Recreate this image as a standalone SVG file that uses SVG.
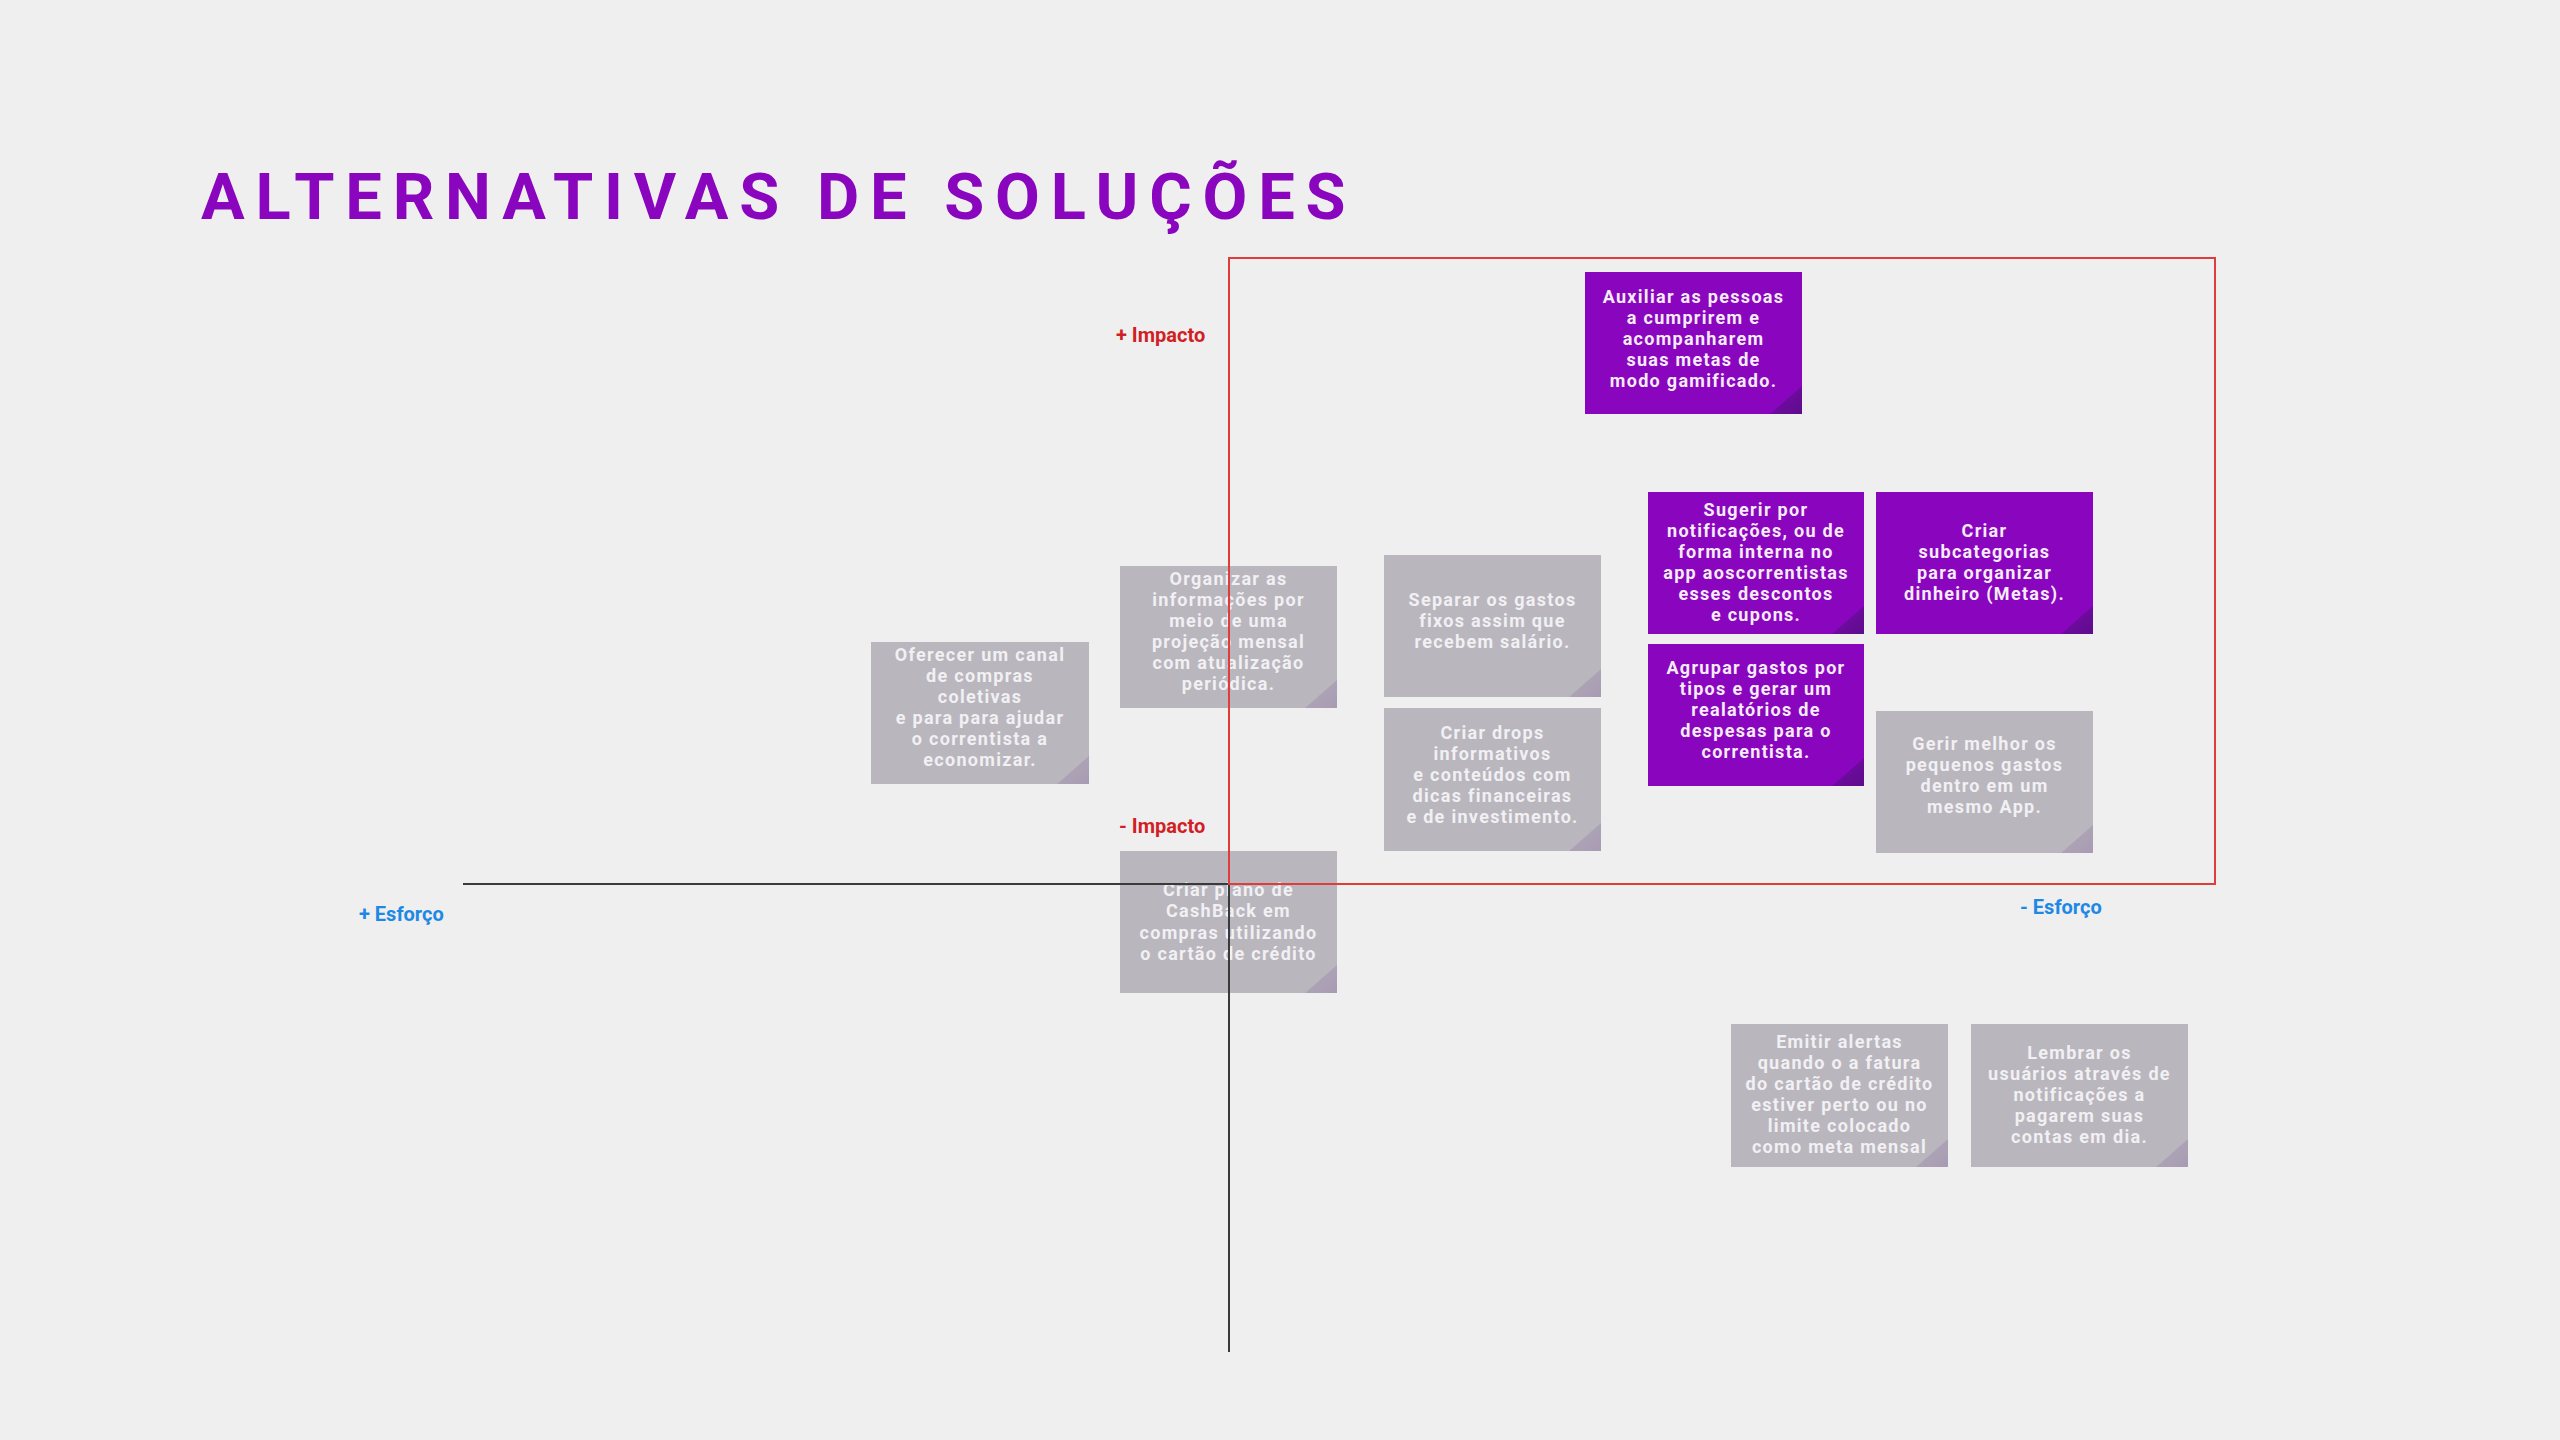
<svg xmlns="http://www.w3.org/2000/svg" width="2560" height="1440" viewBox="0 0 2560 1440">
<style>
.title{font-family:Roboto,"Liberation Sans",sans-serif;font-weight:700;font-size:65px;letter-spacing:10.8px;fill:#8a05be}
.t{font-family:Roboto,"Liberation Sans",sans-serif;font-weight:700;font-size:18px;letter-spacing:1.3px;text-anchor:middle}
.tp{fill:#f5ecf8}
.tg{fill:#f1f0f3}
.pb{fill:#8a05be}
.gb{fill:#bab6be}
.pf{fill:url(#pfold)}
.gf{fill:url(#gfold)}
.lblr{font-family:Roboto,"Liberation Sans",sans-serif;font-weight:700;font-size:20px;fill:#d01f26}
.lblb{font-family:Roboto,"Liberation Sans",sans-serif;font-weight:700;font-size:20px;fill:#1e88e5}
.axis{stroke:#3a3a3a;stroke-width:2;fill:none}
.frame{stroke:#e03c3c;stroke-width:2;fill:none}
</style>
<defs>
<linearGradient id="pfold" x1="0" y1="0" x2="1" y2="1"><stop offset="0" stop-color="#7a0aae"/><stop offset="1" stop-color="#5e0c8c"/></linearGradient>
<linearGradient id="gfold" x1="0" y1="0" x2="1" y2="1"><stop offset="0" stop-color="#b2aab8"/><stop offset="1" stop-color="#a79bb2"/></linearGradient>
</defs>
<rect width="2560" height="1440" fill="#efefef"/>
<text class="title" x="201" y="219">ALTERNATIVAS DE SOLUÇÕES</text>

<g id="n-auxiliar">
<rect class="pb" x="1585" y="272" width="217" height="142"/>
<polygon class="pf" points="1802,386 1802,414 1770,414"/>
<text class="t tp"><tspan x="1693.5" y="303">Auxiliar as pessoas</tspan><tspan x="1693.5" y="324">a cumprirem e</tspan><tspan x="1693.5" y="345">acompanharem</tspan><tspan x="1693.5" y="366">suas metas de</tspan><tspan x="1693.5" y="387">modo gamificado.</tspan></text>
</g>

<g id="n-sugerir">
<rect class="pb" x="1648" y="492" width="216" height="142"/>
<polygon class="pf" points="1864,606 1864,634 1832,634"/>
<text class="t tp"><tspan x="1756" y="516">Sugerir por</tspan><tspan x="1756" y="537">notificações, ou de</tspan><tspan x="1756" y="558">forma interna no</tspan><tspan x="1756" y="579">app aoscorrentistas</tspan><tspan x="1756" y="600">esses descontos</tspan><tspan x="1756" y="621">e cupons.</tspan></text>
</g>

<g id="n-subcategorias">
<rect class="pb" x="1876" y="492" width="217" height="142"/>
<polygon class="pf" points="2093,606 2093,634 2061,634"/>
<text class="t tp"><tspan x="1984.5" y="537">Criar</tspan><tspan x="1984.5" y="558">subcategorias</tspan><tspan x="1984.5" y="579">para organizar</tspan><tspan x="1984.5" y="600">dinheiro (Metas).</tspan></text>
</g>

<g id="n-agrupar">
<rect class="pb" x="1648" y="644" width="216" height="142"/>
<polygon class="pf" points="1864,758 1864,786 1832,786"/>
<text class="t tp"><tspan x="1756" y="674">Agrupar gastos por</tspan><tspan x="1756" y="695">tipos e gerar um</tspan><tspan x="1756" y="716">realatórios de</tspan><tspan x="1756" y="737">despesas para o</tspan><tspan x="1756" y="758">correntista.</tspan></text>
</g>

<g id="n-gerir">
<rect class="gb" x="1876" y="711" width="217" height="142"/>
<polygon class="gf" points="2093,825 2093,853 2061,853"/>
<text class="t tg"><tspan x="1984.5" y="750">Gerir melhor os</tspan><tspan x="1984.5" y="771">pequenos gastos</tspan><tspan x="1984.5" y="792">dentro em um</tspan><tspan x="1984.5" y="813">mesmo App.</tspan></text>
</g>

<g id="n-separar">
<rect class="gb" x="1384" y="555" width="217" height="142"/>
<polygon class="gf" points="1601,669 1601,697 1569,697"/>
<text class="t tg"><tspan x="1492.5" y="606">Separar os gastos</tspan><tspan x="1492.5" y="627">fixos assim que</tspan><tspan x="1492.5" y="648">recebem salário.</tspan></text>
</g>

<g id="n-drops">
<rect class="gb" x="1384" y="708" width="217" height="143"/>
<polygon class="gf" points="1601,823 1601,851 1569,851"/>
<text class="t tg"><tspan x="1492.5" y="739">Criar drops</tspan><tspan x="1492.5" y="760">informativos</tspan><tspan x="1492.5" y="781">e conteúdos com</tspan><tspan x="1492.5" y="802">dicas financeiras</tspan><tspan x="1492.5" y="823">e de investimento.</tspan></text>
</g>

<g id="n-organizar">
<rect class="gb" x="1120" y="566" width="217" height="142"/>
<polygon class="gf" points="1337,680 1337,708 1305,708"/>
<text class="t tg"><tspan x="1228.5" y="585">Organizar as</tspan><tspan x="1228.5" y="606">informações por</tspan><tspan x="1228.5" y="627">meio de uma</tspan><tspan x="1228.5" y="648">projeção mensal</tspan><tspan x="1228.5" y="669">com atualização</tspan><tspan x="1228.5" y="690">periódica.</tspan></text>
</g>

<g id="n-oferecer">
<rect class="gb" x="871" y="642" width="218" height="142"/>
<polygon class="gf" points="1089,756 1089,784 1057,784"/>
<text class="t tg"><tspan x="980" y="661">Oferecer um canal</tspan><tspan x="980" y="682">de compras</tspan><tspan x="980" y="703">coletivas</tspan><tspan x="980" y="724">e para para ajudar</tspan><tspan x="980" y="745">o correntista a</tspan><tspan x="980" y="766">economizar.</tspan></text>
</g>

<g id="n-cashback">
<rect class="gb" x="1120" y="851" width="217" height="142"/>
<polygon class="gf" points="1337,965 1337,993 1305,993"/>
<text class="t tg"><tspan x="1228.5" y="896">Criar plano de</tspan><tspan x="1228.5" y="917">CashBack em</tspan><tspan x="1228.5" y="939">compras utilizando</tspan><tspan x="1228.5" y="960">o cartão de crédito</tspan></text>
</g>

<g id="n-emitir">
<rect class="gb" x="1731" y="1024" width="217" height="143"/>
<polygon class="gf" points="1948,1139 1948,1167 1916,1167"/>
<text class="t tg"><tspan x="1839.5" y="1048">Emitir alertas</tspan><tspan x="1839.5" y="1069">quando o a fatura</tspan><tspan x="1839.5" y="1090">do cartão de crédito</tspan><tspan x="1839.5" y="1111">estiver perto ou no</tspan><tspan x="1839.5" y="1132">limite colocado</tspan><tspan x="1839.5" y="1153">como meta mensal</tspan></text>
</g>

<g id="n-lembrar">
<rect class="gb" x="1971" y="1024" width="217" height="143"/>
<polygon class="gf" points="2188,1139 2188,1167 2156,1167"/>
<text class="t tg"><tspan x="2079.5" y="1059">Lembrar os</tspan><tspan x="2079.5" y="1080">usuários através de</tspan><tspan x="2079.5" y="1101">notificações a</tspan><tspan x="2079.5" y="1122">pagarem suas</tspan><tspan x="2079.5" y="1143">contas em dia.</tspan></text>
</g>

<g id="connectors">
<line class="axis" x1="463" y1="884" x2="1229" y2="884"/>
<line class="axis" x1="1229" y1="884" x2="1229" y2="1352"/>
<rect class="frame" x="1229" y="258" width="986" height="626"/>
</g>

<g id="labels">
<text class="lblr" x="1116" y="342">+ Impacto</text>
<text class="lblr" x="1119" y="833">- Impacto</text>
<text class="lblb" x="359" y="921">+ Esforço</text>
<text class="lblb" x="2020" y="914">- Esforço</text>
</g>
</svg>
